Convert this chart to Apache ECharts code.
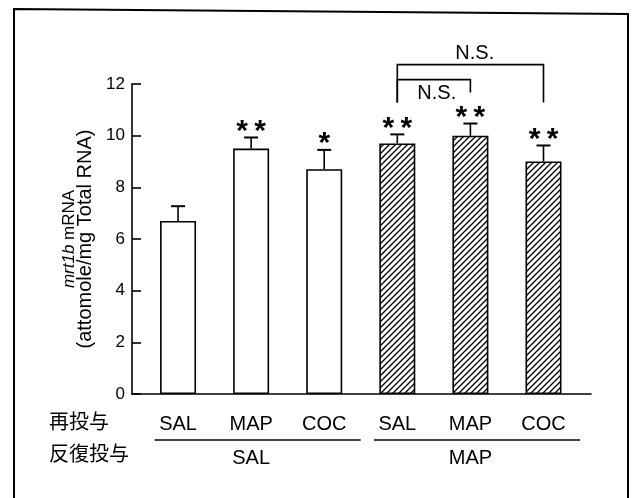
<!DOCTYPE html>
<html><head><meta charset="utf-8">
<script src="https://cdn.jsdelivr.net/npm/echarts@6/dist/echarts.min.js"></script>
<style>html,body{margin:0;padding:0;background:#fff}#c{width:635px;height:498px}</style>
</head><body><div id="c"></div>
<script>
// ---- data ----
const reAdminCats = ['SAL', 'MAP', 'COC', 'SAL', 'MAP', 'COC'];
const means = [6.7, 9.5, 8.7, 9.7, 10.0, 9.0];
const errTops = [7.27, 9.93, 9.45, 10.05, 10.47, 9.62];
const stars = ['', '**', '*', '**', '**', '**'];
const hatched = [false, false, false, true, true, true];
const groupLabels = ['SAL', 'MAP'];
const groupSpans = [[0, 2], [3, 5]];
const rowTitles = ['再投与', '反復投与'];
// bracket: from index, to index, top level, left leg end, right leg end
const brackets = [[3, 5, 12.75, 11.28, 11.28], [3, 4, 12.17, 11.28, 11.67]];
const bracketTexts = ['N.S.', 'N.S.'];
const bracketTextPos = [[4.06, 13.17], [3.54, 11.65]];
const yMin = 0, yMax = 12, yStep = 2;

// ---- hatch pattern ----
function hatch() {
  const p = 6, c = document.createElement('canvas');
  c.width = p; c.height = p;
  const g = c.getContext('2d');
  g.fillStyle = '#fff'; g.fillRect(0, 0, p, p);
  g.strokeStyle = '#000'; g.lineWidth = 1.3;
  [[-1, p + 1, p + 1, -1], [-1, 1, 1, -1], [p - 1, p + 1, p + 1, p - 1]].forEach(l => {
    g.beginPath(); g.moveTo(l[0], l[1]); g.lineTo(l[2], l[3]); g.stroke();
  });
  return { image: c, repeat: 'repeat' };
}
const pattern = hatch();
const LAT = 'Liberation Sans, Arial, Helvetica, sans-serif';
const CJK = 'Noto Sans CJK JP, sans-serif';

const chart = echarts.init(document.getElementById('c'), null, { renderer: 'canvas' });
chart.setOption({
  animation: false,
  backgroundColor: '#fff',
  grid: { left: 132, right: 44, top: 84, bottom: 104 },
  xAxis: {
    type: 'value', min: -0.63, max: 5.65,
    splitLine: { show: false },
    axisLine: { show: true, onZero: false, lineStyle: { color: '#000', width: 1.6 } },
    axisTick: { show: false },
    axisLabel: {
      customValues: [0, 1, 2, 3, 4, 5],
      formatter: v => reAdminCats[Math.round(v)],
      fontSize: 20, fontFamily: LAT, color: '#000', margin: 20
    }
  },
  yAxis: {
    type: 'value', min: yMin, max: yMax, interval: yStep,
    splitLine: { show: false },
    axisLine: { show: true, onZero: false, lineStyle: { color: '#000', width: 1.6 } },
    axisTick: { show: true, inside: true, length: 9, lineStyle: { color: '#000', width: 1.6 } },
    axisLabel: { fontSize: 17, fontFamily: LAT, color: '#000', margin: 7 },
    name: '{it|mrt1b}{a| mRNA}\n{b|(attomole/mg Total RNA)}',
    nameLocation: 'middle', nameRotate: 90, nameGap: 39,
    nameTextStyle: {
      fontSize: 17, lineHeight: 16, fontFamily: LAT, color: '#000',
      rich: {
        it: { fontStyle: 'italic', fontSize: 17, lineHeight: 16, fontFamily: LAT, color: '#000' },
        a: { fontSize: 17, lineHeight: 16, fontFamily: LAT, color: '#000' },
        b: { fontSize: 20, lineHeight: 16, fontFamily: LAT, color: '#000' }
      }
    }
  },
  graphic: [
    { type: 'polyline', shape: { points: [[14, 498], [14, 9], [628, 14], [628, 498]] },
      style: { stroke: '#000', lineWidth: 2, fill: null }, silent: true },
    { type: 'text', x: 49, y: 421, style: { text: rowTitles[0], font: '20px ' + CJK, fill: '#000', verticalAlign: 'middle' } },
    { type: 'text', x: 49, y: 453, style: { text: rowTitles[1], font: '20px ' + CJK, fill: '#000', verticalAlign: 'middle' } }
  ],
  series: [
    {
      type: 'bar', barWidth: 36,
      data: means.map((v, i) => ({ value: [i, v], itemStyle: { color: hatched[i] ? pattern : '#fff' } })),
      itemStyle: { borderColor: '#000', borderWidth: 1.6 }
    },
    {
      type: 'custom', clip: false,
      data: means.map((v, i) => [i, v, errTops[i]]),
      encode: { x: 0, y: [1, 2] },
      renderItem: (params, api) => {
        const i = api.value(0);
        const b = api.coord([i, api.value(1)]);
        const t = api.coord([i, api.value(2)]);
        const ch = [
          { type: 'line', shape: { x1: b[0], y1: b[1], x2: t[0], y2: t[1] }, style: { stroke: '#000', lineWidth: 1.6 } },
          { type: 'line', shape: { x1: t[0] - 7, y1: t[1], x2: t[0] + 7, y2: t[1] }, style: { stroke: '#000', lineWidth: 2 } }
        ];
        const s = stars[params.dataIndex].split('');
        s.forEach((c, k) => {
          const dx = (k - (s.length - 1) / 2) * 18;
          ch.push({ type: 'text', x: t[0] + dx, y: t[1] - 6, style: { text: c, font: 'bold 30px ' + LAT, fill: '#000', align: 'center', verticalAlign: 'middle' } });
        });
        return { type: 'group', children: ch };
      }
    },
    {
      type: 'custom', clip: false,
      data: brackets.map(b => b.slice()),
      encode: { x: [0, 1], y: [2, 3, 4] },
      renderItem: (params, api) => {
        const k = params.dataIndex;
        const a = api.coord([api.value(0), api.value(2)]);
        const c = api.coord([api.value(1), api.value(2)]);
        const l = api.coord([api.value(0), api.value(3)]);
        const r = api.coord([api.value(1), api.value(4)]);
        const tp = api.coord(bracketTextPos[k]);
        return { type: 'group', children: [
          { type: 'polyline', shape: { points: [l, a, c, r] }, style: { stroke: '#000', lineWidth: 1.6, fill: null } },
          { type: 'text', x: tp[0], y: tp[1], style: { text: bracketTexts[k], font: '20px ' + LAT, fill: '#000', align: 'center', verticalAlign: 'middle' } }
        ] };
      }
    },
    {
      type: 'custom', clip: false,
      data: groupSpans.map(s => [s[0], s[1]]),
      encode: { x: [0, 1] },
      renderItem: (params, api) => {
        const s0 = api.value(0), s1 = api.value(1);
        const L = api.coord([s0 - 0.32, 0]);
        const R = api.coord([s1 + 0.5, 0]);
        const M = api.coord([(s0 + s1) / 2, 0]);
        return { type: 'group', children: [
          { type: 'line', shape: { x1: L[0], y1: L[1] + 46, x2: R[0], y2: R[1] + 46 }, style: { stroke: '#000', lineWidth: 1.6 } },
          { type: 'text', x: M[0], y: M[1] + 64, style: { text: groupLabels[params.dataIndex], font: '20px ' + LAT, fill: '#000', align: 'center', verticalAlign: 'middle' } }
        ] };
      }
    }
  ]
});
</script></body></html>
